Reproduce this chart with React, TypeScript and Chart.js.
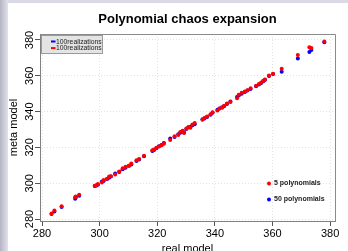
import React, { useEffect, useRef } from "react";
import { Chart, registerables } from "chart.js";

Chart.register(...registerables);

// ---- data ----
const realModel = [
  283.3, 284.3, 286.8, 291.5, 291.7, 292.9, 298.3, 298.9, 299.4, 300.8, 301.4, 302.6, 303.3, 303.9, 305.4, 306.8,
  308.0, 309.0, 310.2, 311.0, 312.8, 313.7, 315.4, 318.3, 318.9, 319.7, 320.6, 321.5, 322.3, 324.5, 326.0,
  327.3, 328.0, 328.8, 329.3, 330.1, 330.8, 331.5, 332.2, 333.0, 335.7, 336.4, 337.3, 338.5, 339.2,
  340.9, 341.6, 342.5, 343.2, 344.2, 345.4, 347.7, 348.3, 349.3, 350.4, 351.3, 352.4,
  354.3, 355.3, 356.1, 356.8, 357.4, 358.8, 360.2, 363.2, 368.8, 372.8, 373.5, 378.0,
];
const metaRed = [
  283.1, 284.8, 287.2, 292.2, 292.6, 293.6, 298.6, 298.9, 299.5, 300.4, 301.8, 302.5, 303.7, 303.9, 304.9, 306.6,
  308.3, 309.2, 309.8, 311.0, 312.8, 313.6, 315.4, 318.4, 318.8, 319.8, 320.5, 321.2, 322.0, 324.1, 326.3,
  327.0, 328.6, 329.3, 328.0, 330.6, 331.2, 331.0, 332.8, 333.6, 335.4, 336.5, 337.2, 338.5, 339.6,
  340.6, 341.8, 342.1, 343.3, 344.6, 345.3, 347.5, 349.4, 350.6, 351.2, 352.0, 353.0,
  354.5, 355.4, 356.3, 357.3, 358.0, 360.2, 361.2, 364.0, 371.6, 375.9, 375.5, 379.2,
];
const metaBlue = [
  282.8, 284.2, 286.7, 291.3, 292.0, 293.0, 298.5, 298.7, 299.2, 300.9, 301.2, 302.4, 303.0, 303.7, 305.5, 306.2,
  307.8, 308.6, 309.7, 310.5, 312.4, 313.2, 315.0, 318.0, 318.6, 319.5, 320.7, 321.3, 322.4, 325.0, 325.8,
  327.4, 328.2, 329.0, 328.3, 330.3, 331.2, 331.4, 332.4, 333.0, 335.7, 336.2, 337.0, 338.3, 339.3,
  341.0, 341.7, 342.4, 343.0, 344.3, 345.6, 348.2, 349.0, 350.0, 351.0, 351.8, 352.6,
  354.2, 355.1, 356.0, 357.0, 357.8, 359.9, 361.0, 362.3, 369.6, 373.3, 374.4, 378.8,
];
const xTicks = [280, 300, 320, 340, 360, 380];
const yTicks = [280, 300, 320, 340, 360, 380];
const seriesLabels = ["5 polynomials", "50 polynomials"];
const realizationLabels = ["100realizations", "100realizations"];
const titleText = "Polynomial chaos expansion";
const xTitle = "real model";
const yTitle = "meta model";

const RED = "#ff0000";
const BLUE = "#0000ff";
const FONT = "'Liberation Sans', Arial, Helvetica, sans-serif";

const decorPlugin = {
  id: "decor",
  afterDraw(chart: any) {
    const { ctx, chartArea: ca } = chart;
    ctx.save();
    // frame top/right
    ctx.strokeStyle = "#8a8a8a";
    ctx.lineWidth = 1;
    ctx.beginPath();
    ctx.moveTo(Math.round(ca.left) + 0.5, Math.round(ca.top) + 0.5);
    ctx.lineTo(Math.round(ca.right) + 0.5, Math.round(ca.top) + 0.5);
    ctx.lineTo(Math.round(ca.right) + 0.5, Math.round(ca.bottom) + 0.5);
    ctx.stroke();

    // legend box top-left
    const bx = Math.round(ca.left) + 1.5;
    const by = Math.round(ca.top) + 1.5;
    ctx.fillStyle = "#e4e4e4";
    ctx.fillRect(bx, by, 61, 18);
    ctx.strokeStyle = "#9a9a9a";
    ctx.strokeRect(bx, by, 61, 18);
    const cols = [BLUE, RED];
    ctx.font = `6.8px ${FONT}`;
    ctx.textBaseline = "middle";
    ctx.textAlign = "left";
    realizationLabels.forEach((lab, i) => {
      const yy = by + 6 + i * 6.6;
      ctx.fillStyle = cols[i];
      ctx.fillRect(bx + 9.5, yy - 1, 4.5, 2);
      ctx.fillStyle = "#222";
      ctx.fillText(lab, bx + 14.5, yy + 0.3);
    });

    // legend bottom-right
    const lx = ca.right - 66;
    const lcols = [RED, BLUE];
    ctx.font = `bold 7px ${FONT}`;
    seriesLabels.forEach((lab, i) => {
      const yy = ca.top + 149.5 + i * 16;
      ctx.fillStyle = lcols[i];
      ctx.beginPath();
      ctx.arc(lx, yy, 2, 0, Math.PI * 2);
      ctx.fill();
      ctx.fillStyle = "#222";
      ctx.fillText(lab, lx + 5, yy - 0.5);
    });
    ctx.restore();
  },
};

export default function App() {
  const ref = useRef<HTMLCanvasElement | null>(null);
  useEffect(() => {
    if (!ref.current) return;
    Chart.defaults.font.family = FONT;
    const chart = new Chart(ref.current, {
      type: "scatter",
      data: {
        datasets: [
          {
            label: seriesLabels[0],
            data: realModel.map((x, i) => ({ x, y: metaRed[i] })),
            backgroundColor: RED,
            borderWidth: 0,
            pointRadius: 2,
          },
          {
            label: seriesLabels[1],
            data: realModel.map((x, i) => ({ x, y: metaBlue[i] })),
            backgroundColor: BLUE,
            borderWidth: 0,
            pointRadius: 2,
          },
        ],
      },
      options: {
        animation: false,
        responsive: false,
        devicePixelRatio: 1,
        layout: { padding: { left: 0, right: 13, top: 0, bottom: 0 } },
        plugins: {
          legend: { display: false },
          tooltip: { enabled: false },
          title: {
            display: true,
            text: titleText,
            color: "#000",
            fullSize: false,
            font: { family: FONT, size: 13, weight: "bold" },
            padding: { top: 11.5, bottom: 6.9 },
          },
        },
        scales: {
          x: {
            type: "linear",
            min: 279.3,
            max: 381.7,
            afterBuildTicks: (s: any) => {
              s.ticks = xTicks.map((v) => ({ value: v }));
            },
            afterFit: (s: any) => {
              s.height = 30;
            },
            ticks: { color: "#000", font: { size: 11 }, padding: 1, maxRotation: 0 },
            grid: {
              color: "#e2e2e2",
              tickColor: "#555",
              tickLength: 5,
              tickWidth: 1,
              tickBorderDash: [],
            },
            border: { display: true, color: "#808080", width: 1, dash: [1, 2] },
            title: {
              display: true,
              text: xTitle,
              color: "#000",
              font: { size: 11 },
              padding: { top: 0, bottom: -5 },
            },
          },
          y: {
            type: "linear",
            min: 278.9,
            max: 383.35,
            afterBuildTicks: (s: any) => {
              s.ticks = yTicks.map((v) => ({ value: v }));
            },
            afterFit: (s: any) => {
              s.width = 40;
            },
            ticks: {
              color: "#000",
              font: { size: 11 },
              minRotation: 90,
              maxRotation: 90,
              crossAlign: "center",
              padding: -4,
            },
            grid: {
              color: "#e2e2e2",
              tickColor: "#555",
              tickLength: 5,
              tickWidth: 1,
              tickBorderDash: [],
            },
            border: { display: true, color: "#808080", width: 1, dash: [1, 2] },
            title: {
              display: true,
              text: yTitle,
              color: "#000",
              font: { size: 11 },
              padding: { top: 7, bottom: 0 },
            },
          },
        },
      } as any,
      plugins: [decorPlugin],
    });
    return () => chart.destroy();
  }, []);

  return (
    <div
      style={{
        position: "fixed",
        left: 0,
        top: 0,
        width: 348,
        height: 251,
        overflow: "hidden",
        background: "#dadae6",
      }}
    >
      <div
        style={{
          position: "absolute",
          left: 0,
          top: 0,
          width: 8,
          height: 251,
          background: "linear-gradient(to right, #b4b4c4, #d0d0dc 60%, #e2e2ea)",
        }}
      />
      <div style={{ position: "absolute", left: 8, top: 3, right: 0, bottom: 0, background: "#fff" }} />
      <canvas ref={ref} width={348} height={251} style={{ position: "absolute", left: 0, top: 0 }} />
    </div>
  );
}
